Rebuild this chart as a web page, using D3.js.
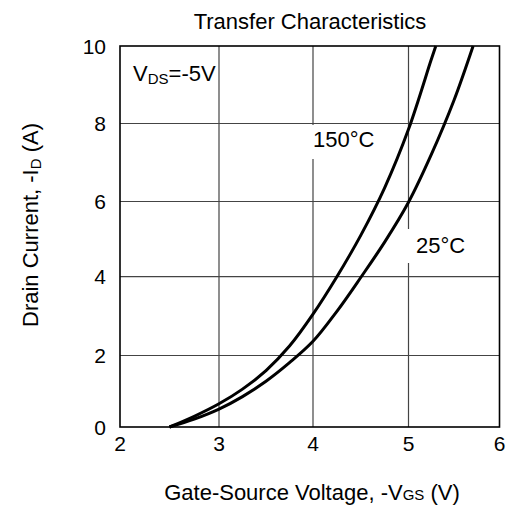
<!DOCTYPE html>
<html>
<head>
<meta charset="utf-8">
<script src="https://cdn.jsdelivr.net/npm/d3@7"></script>
<style>
  body { margin: 0; background: #fff; }
  text { font-family: "Liberation Sans", Arial, sans-serif; fill: #000; }
</style>
</head>
<body>
<svg id="chart" width="510" height="507"></svg>
<script>
// values
var xTicks = [2, 3, 4, 5, 6];
var yTicks = [0, 2, 4, 6, 8, 10];

var vgs150 = [2.5, 2.75, 3.0, 3.25, 3.5, 3.75, 4.0, 4.25, 4.5, 4.75, 5.0, 5.25, 5.3];
var id150  = [0, 0.3, 0.65, 1.06, 1.58, 2.24, 3.05, 4.0, 5.1, 6.35, 7.85, 9.65, 10];

var vgs25 = [2.5, 2.75, 3.0, 3.25, 3.5, 3.75, 4.0, 4.25, 4.5, 4.75, 5.0, 5.25, 5.5, 5.71];
var id25  = [0, 0.22, 0.5, 0.85, 1.28, 1.8, 2.36, 3.12, 3.98, 4.92, 5.98, 7.2, 8.6, 10];

var svg = d3.select('#chart');

// the printed grid is not evenly spaced, so map each gridline
var x = d3.scaleLinear().domain(xTicks).range([120, 219, 313, 408.5, 499.5]);
var y = d3.scaleLinear().domain(yTicks).range([427, 355.5, 276.7, 201.5, 123.5, 46]);

var grid = svg.append('g').attr('class', 'grid');
grid.selectAll('.vgrid')
  .data(xTicks.slice(1, -1))
  .enter().append('line')
  .attr('class', 'vgrid')
  .attr('x1', function(d) { return x(d); })
  .attr('x2', function(d) { return x(d); })
  .attr('y1', y(0))
  .attr('y2', y(10))
  .attr('stroke', '#444')
  .attr('stroke-width', 1.2);

grid.selectAll('.hgrid')
  .data(yTicks.slice(1, -1))
  .enter().append('line')
  .attr('class', 'hgrid')
  .attr('x1', x(2))
  .attr('x2', x(6))
  .attr('y1', function(d) { return y(d); })
  .attr('y2', function(d) { return y(d); })
  .attr('stroke', '#444')
  .attr('stroke-width', 1.2);

// curve labels sit on white boxes that cut the grid
var labels = [
  {text: '150°C', tx: 313, ty: 147, bx: 296, by: 125, bw: 94},
  {text: '25°C', tx: 416, ty: 253, bx: 400, by: 229, bw: 80}
];
svg.selectAll('.lbl-box')
  .data(labels)
  .enter().append('rect')
  .attr('class', 'lbl-box')
  .attr('x', function(d) { return d.bx; })
  .attr('y', function(d) { return d.by; })
  .attr('width', function(d) { return d.bw; })
  .attr('height', 34)
  .attr('fill', '#fff');

svg.selectAll('.lbl')
  .data(labels)
  .enter().append('text')
  .attr('class', 'lbl')
  .attr('x', function(d) { return d.tx; })
  .attr('y', function(d) { return d.ty; })
  .attr('font-size', 22)
  .text(function(d) { return d.text; });

// frame
svg.append('rect')
  .attr('x', x(2))
  .attr('y', y(10))
  .attr('width', x(6) - x(2))
  .attr('height', y(0) - y(10))
  .attr('fill', 'none')
  .attr('stroke', '#000')
  .attr('stroke-width', 1.6);

var line = d3.line()
  .x(function(d) { return x(d[0]); })
  .y(function(d) { return y(d[1]); })
  .curve(d3.curveCatmullRom.alpha(0.5));

var series = [d3.zip(vgs150, id150), d3.zip(vgs25, id25)];
svg.selectAll('.curve')
  .data(series)
  .enter().append('path')
  .attr('class', 'curve')
  .attr('d', line)
  .attr('fill', 'none')
  .attr('stroke', '#000')
  .attr('stroke-width', 3);

// tick labels
svg.selectAll('.xlab')
  .data(xTicks)
  .enter().append('text')
  .attr('class', 'xlab')
  .attr('x', function(d) { return x(d); })
  .attr('y', 451)
  .attr('text-anchor', 'middle')
  .attr('font-size', 21)
  .text(function(d) { return d; });

svg.selectAll('.ylab')
  .data(yTicks)
  .enter().append('text')
  .attr('class', 'ylab')
  .attr('x', 106)
  .attr('y', function(d) { return y(d) + 7.5; })
  .attr('text-anchor', 'end')
  .attr('font-size', 21)
  .text(function(d) { return d; });

// title and axis titles
svg.append('text')
  .attr('x', 310)
  .attr('y', 29)
  .attr('text-anchor', 'middle')
  .attr('font-size', 22)
  .text('Transfer Characteristics');

var xt = svg.append('text')
  .attr('x', 312)
  .attr('y', 500)
  .attr('text-anchor', 'middle')
  .attr('font-size', 22);
xt.append('tspan').text('Gate-Source Voltage, -V');
xt.append('tspan').attr('font-size', 15).text('GS');
xt.append('tspan').text(' (V)');

var yt = svg.append('text')
  .attr('transform', 'translate(38,225) rotate(-90)')
  .attr('text-anchor', 'middle')
  .attr('font-size', 22);
yt.append('tspan').text('Drain Current, -I');
yt.append('tspan').attr('font-size', 15).attr('dy', 3).text('D');
yt.append('tspan').attr('dy', -3).text(' (A)');

var vds = svg.append('text')
  .attr('x', 133)
  .attr('y', 81)
  .attr('font-size', 22);
vds.append('tspan').text('V');
vds.append('tspan').attr('font-size', 15).attr('dy', 3).text('DS');
vds.append('tspan').attr('dy', -3).text('=-5V');
</script>
</body>
</html>
